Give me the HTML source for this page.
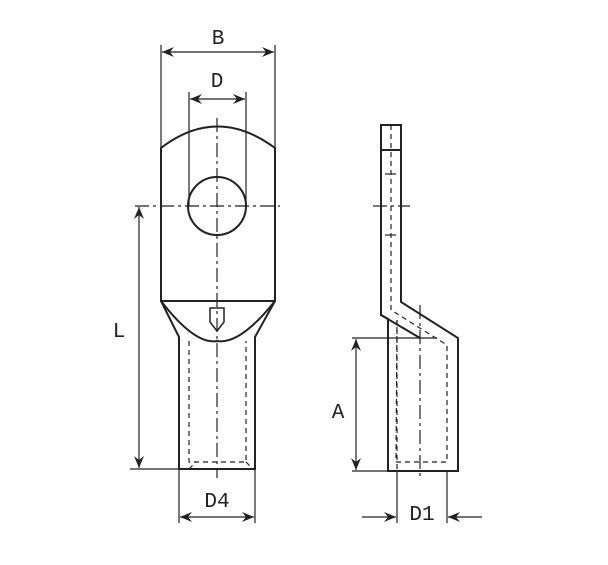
<!DOCTYPE html>
<html><head><style>body{margin:0;background:#fff}svg{display:block}</style></head><body>
<svg width="608" height="565" viewBox="0 0 608 565" xmlns="http://www.w3.org/2000/svg">
<defs>
<marker id="a" viewBox="0 0 12 10" refX="12" refY="5" markerWidth="12" markerHeight="10" markerUnits="userSpaceOnUse" orient="auto-start-reverse"><path d="M0,0 L12,5 L0,10 L4,5 Z" fill="#222"/></marker>
</defs>
<g fill="none" stroke="#222" stroke-width="2">
<!-- left lug head -->
<path d="M161,148 Q217,105 275,148 L275,301 L161,301 Z"/>
<circle cx="217" cy="206" r="29"/>
<path d="M161,301 Q195,345 217,341 Q240,345 275,301"/>
<path d="M161,301 L179,337 L179,469 L255,469 L255,337 L275,301"/>
<path d="M210,308 L224,308 L224,322 L217,331 L210,322 Z" stroke-width="1.5"/>
<!-- right lug -->
<path d="M381,125 L401,125 L401,302 L458,338 L458,471 L388,471 L388,319 L381,315 Z"/>
<line x1="381" y1="150" x2="401" y2="150"/>
<line x1="381" y1="315" x2="420" y2="338"/>
</g>
<g fill="none" stroke="#222" stroke-width="1.2" stroke-dasharray="5,4">
<path d="M189,341 L189,462 L246,462 L246,341"/>
<path d="M189,469 L196,462 M246,462 L253,469"/>
<path d="M391,125 L391,310 L447,345 L447,462 L396,462 L397,320"/>
<line x1="397" y1="320" x2="397" y2="471"/>
</g>
<g stroke="#222" stroke-width="1.2" stroke-dasharray="14,4,3,4">
<line x1="217" y1="118" x2="217" y2="478"/>
<line x1="135" y1="206" x2="280" y2="206"/>
<line x1="420" y1="305" x2="420" y2="478"/>
<line x1="373" y1="206" x2="410" y2="206"/>
</g>
<g stroke="#222" stroke-width="1.2">
<line x1="385" y1="174" x2="396" y2="174"/><line x1="385" y1="235" x2="396" y2="235"/>
<line x1="161" y1="45" x2="161" y2="148"/><line x1="275" y1="45" x2="275" y2="148"/>
<line x1="162" y1="52" x2="274" y2="52" marker-start="url(#a)" marker-end="url(#a)"/>
<line x1="189" y1="92" x2="189" y2="206"/><line x1="246" y1="92" x2="246" y2="206"/>
<line x1="190" y1="99" x2="245" y2="99" marker-start="url(#a)" marker-end="url(#a)"/>
<line x1="139" y1="207" x2="139" y2="468" marker-start="url(#a)" marker-end="url(#a)"/>
<line x1="130" y1="469" x2="180" y2="469"/>
<line x1="179" y1="469" x2="179" y2="523"/><line x1="255" y1="469" x2="255" y2="523"/>
<line x1="180" y1="517" x2="254" y2="517" marker-start="url(#a)" marker-end="url(#a)"/>
<line x1="352" y1="338" x2="437" y2="338"/>
<line x1="352" y1="471" x2="388" y2="471"/>
<line x1="356" y1="339" x2="356" y2="470" marker-start="url(#a)" marker-end="url(#a)"/>
<line x1="397" y1="471" x2="397" y2="523"/><line x1="447" y1="471" x2="447" y2="523"/>
<line x1="362" y1="517" x2="396" y2="517" marker-end="url(#a)"/>
<line x1="482" y1="517" x2="448" y2="517" marker-end="url(#a)"/>
</g>
<g font-family="Liberation Mono, monospace" font-size="21" fill="#222" text-anchor="middle">
<text x="218" y="44">B</text>
<text x="217" y="87">D</text>
<text x="119" y="337">L</text>
<text x="217" y="507">D4</text>
<text x="338" y="418">A</text>
<text x="422" y="520">D1</text>
</g>
</svg>
</body></html>
